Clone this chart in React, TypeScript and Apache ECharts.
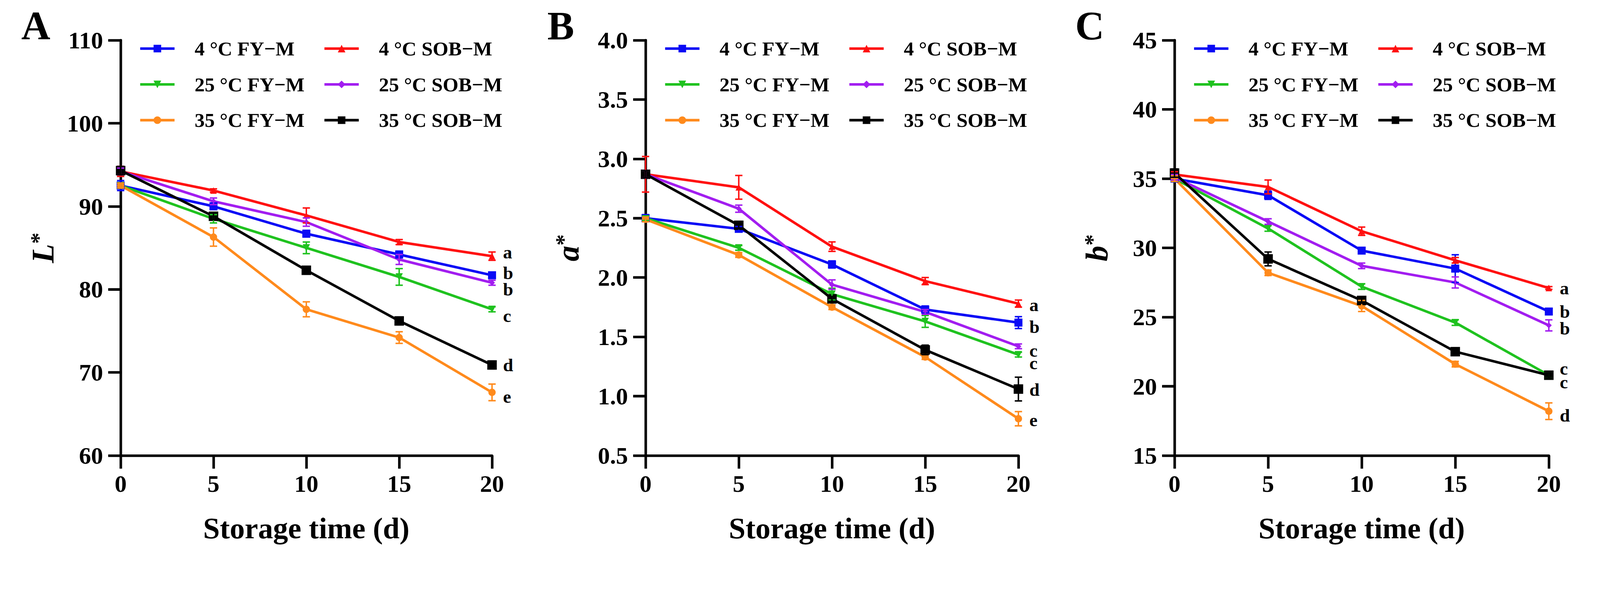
import React, { useEffect, useRef } from "react";
import * as echarts from "echarts";

const days = [0, 5, 10, 15, 20];
const groupNames = ["4 °C FY−M", "4 °C SOB−M", "25 °C FY−M", "25 °C SOB−M", "35 °C FY−M", "35 °C SOB−M"];
const colors = ["#0A0AF5", "#FF1010", "#1FC21F", "#A21DF0", "#FF8A1C", "#000000"];
const symbols = ["rect", "triangle", "triangle", "diamond", "circle", "rect"];
const symbolRotates = [0, 0, 180, 0, 0, 0];
const symbolSizes = [22, 18, 20, 16, 20, 26];

// L*
const lFY4 = [92.5, 90.0, 86.7, 84.2, 81.7];
const lSOB4 = [94.2, 91.9, 88.9, 85.7, 84.0];
const lFY25 = [92.5, 88.5, 85.0, 81.5, 77.6];
const lSOB25 = [94.2, 90.6, 88.1, 83.6, 80.8];
const lFY35 = [92.5, 86.3, 77.6, 74.2, 67.6];
const lSOB35 = [94.3, 88.8, 82.3, 76.2, 70.9];
const lSdFY4 = [0.6, 0.4, 0.4, 0.4, 0.3];
const lSdSOB4 = [0.6, 0.2, 0.9, 0.3, 0.5];
const lSdFY25 = [0.3, 0.5, 0.7, 1.0, 0.3];
const lSdSOB25 = [0.4, 0.4, 0.5, 0.6, 0.3];
const lSdFY35 = [0.3, 1.1, 0.9, 0.7, 1.0];
const lSdSOB35 = [0.5, 0.4, 0.3, 0.3, 0.3];
const lLetters = ["a", "b", "b", "c", "d", "e"];
const lLetterPos = [84.5, 82.0, 80.0, 76.8, 70.9, 67.1];

// a*
const aFY4 = [2.5, 2.41, 2.11, 1.73, 1.62];
const aSOB4 = [2.87, 2.76, 2.26, 1.97, 1.78];
const aFY25 = [2.5, 2.25, 1.86, 1.63, 1.35];
const aSOB25 = [2.87, 2.58, 1.94, 1.71, 1.42];
const aFY35 = [2.49, 2.19, 1.75, 1.33, 0.81];
const aSOB35 = [2.87, 2.44, 1.82, 1.39, 1.06];
const aSdFY4 = [0.03, 0.02, 0.03, 0.03, 0.05];
const aSdSOB4 = [0.15, 0.1, 0.04, 0.03, 0.03];
const aSdFY25 = [0.02, 0.02, 0.05, 0.05, 0.02];
const aSdSOB25 = [0.03, 0.03, 0.04, 0.02, 0.02];
const aSdFY35 = [0.02, 0.02, 0.02, 0.02, 0.06];
const aSdSOB35 = [0.03, 0.03, 0.02, 0.04, 0.1];
const aLetters = ["a", "b", "c", "c", "d", "e"];
const aLetterPos = [1.77, 1.585, 1.385, 1.28, 1.055, 0.8];

// b*
const bFY4 = [35.0, 33.8, 29.8, 28.5, 25.4];
const bSOB4 = [35.3, 34.4, 31.2, 29.1, 27.1];
const bFY25 = [35.0, 31.4, 27.2, 24.6, 20.8];
const bSOB25 = [35.1, 31.9, 28.7, 27.5, 24.4];
const bFY35 = [35.0, 28.2, 25.8, 21.6, 18.2];
const bSOB35 = [35.4, 29.2, 26.2, 22.5, 20.8];
const bSdFY4 = [0.2, 0.3, 0.2, 1.0, 0.2];
const bSdSOB4 = [0.2, 0.5, 0.3, 0.2, 0.1];
const bSdFY25 = [0.2, 0.2, 0.2, 0.2, 0.2];
const bSdSOB25 = [0.2, 0.2, 0.2, 0.4, 0.4];
const bSdFY35 = [0.2, 0.2, 0.4, 0.2, 0.6];
const bSdSOB35 = [0.3, 0.5, 0.2, 0.2, 0.2];
const bLetters = ["a", "b", "b", "c", "c", "d"];
const bLetterPos = [27.1, 25.4, 24.2, 21.3, 20.3, 17.9];

const font = '"Liberation Serif", "Times New Roman", serif';

const panels = [
  {
    tag: "A",
    values: [lFY4, lSOB4, lFY25, lSOB25, lFY35, lSOB35],
    sds: [lSdFY4, lSdSOB4, lSdFY25, lSdSOB25, lSdFY35, lSdSOB35],
    letters: lLetters,
    letterPos: lLetterPos,
    min: 60,
    max: 110,
    interval: 10,
    decimals: 0,
    axisName: "{i|L}{s|*}",
  },
  {
    tag: "B",
    values: [aFY4, aSOB4, aFY25, aSOB25, aFY35, aSOB35],
    sds: [aSdFY4, aSdSOB4, aSdFY25, aSdSOB25, aSdFY35, aSdSOB35],
    letters: aLetters,
    letterPos: aLetterPos,
    min: 0.5,
    max: 4,
    interval: 0.5,
    decimals: 1,
    axisName: "{i|a}{s|*}",
  },
  {
    tag: "C",
    values: [bFY4, bSOB4, bFY25, bSOB25, bFY35, bSOB35],
    sds: [bSdFY4, bSdSOB4, bSdFY25, bSdSOB25, bSdFY35, bSdSOB35],
    letters: bLetters,
    letterPos: bLetterPos,
    min: 15,
    max: 45,
    interval: 5,
    decimals: 0,
    axisName: "{i|b}{s|*}",
  },
];

// layout in the 4377 x 1532 design space
const W = 4377;
const H = 1532;
const gridLefts = [330, 1766, 3213];
const gridWidths = [1016, 1020, 1024];
const gridTop = 110;
const gridHeight = 1137;

const buildOption = () => {
  const grid: any[] = [];
  const xAxis: any[] = [];
  const yAxis: any[] = [];
  const legend: any[] = [];
  const series: any[] = [];
  const graphic: any[] = [];

  panels.forEach((p, i) => {
    const left = gridLefts[i];
    grid.push({ left, top: gridTop, width: gridWidths[i], height: gridHeight, containLabel: false });

    xAxis.push({
      gridIndex: i,
      type: "value",
      min: 0,
      max: 20,
      interval: 5,
      splitLine: { show: false },
      axisLine: { show: true, onZero: false, lineStyle: { color: "#000", width: 7 } },
      axisTick: { show: true, length: 36, lineStyle: { color: "#000", width: 7 } },
      axisLabel: { margin: 44, fontSize: 66, fontWeight: "bold", fontFamily: font, color: "#000" },
      name: "Storage time (d)",
      nameLocation: "middle",
      nameGap: 158,
      nameTextStyle: { fontSize: 82, fontWeight: "bold", fontFamily: font, color: "#000" },
    });

    yAxis.push({
      gridIndex: i,
      type: "value",
      min: p.min,
      max: p.max,
      interval: p.interval,
      splitLine: { show: false },
      axisLine: { show: true, onZero: false, lineStyle: { color: "#000", width: 7 } },
      axisTick: { show: true, length: 34, lineStyle: { color: "#000", width: 7 } },
      axisLabel: {
        margin: 48,
        fontSize: 66,
        fontWeight: "bold",
        fontFamily: font,
        color: "#000",
        formatter: (v: number) => v.toFixed(p.decimals),
      },
      name: p.axisName,
      nameLocation: "middle",
      nameGap: 170,
      nameRotate: 90,
      nameTextStyle: {
        color: "#000",
        rich: {
          i: { fontSize: 86, fontWeight: "bold", fontStyle: "italic", fontFamily: font, color: "#000" },
          s: { fontSize: 62, fontWeight: "bold", fontFamily: font, color: "#000", padding: [0, 0, 24, 0] },
        },
      },
    });

    [0, 1].forEach((col) => {
      legend.push({
        orient: "vertical",
        left: left + (col === 0 ? 50 : 554),
        top: 103,
        padding: 0,
        itemWidth: 94,
        itemHeight: 26,
        itemGap: 38,
        selectedMode: false,
        lineStyle: { width: 7 },
        data: [groupNames[col], groupNames[col + 2], groupNames[col + 4]],
        textStyle: {
          fontFamily: font,
          fontWeight: "bold",
          fontSize: 55,
          lineHeight: 60,
          color: "#000",
          padding: [0, 0, 0, 50],
        },
      });
    });

    p.values.forEach((vals, g) => {
      series.push({
        type: "line",
        name: groupNames[g],
        xAxisIndex: i,
        yAxisIndex: i,
        data: days.map((d, k) => [d, vals[k]]),
        symbol: symbols[g],
        symbolSize: symbolSizes[g],
        symbolRotate: symbolRotates[g],
        showAllSymbol: true,
        lineStyle: { color: colors[g], width: 7 },
        itemStyle: { color: colors[g] },
        z: 3,
      });
      const sd = p.sds[g];
      const color = colors[g];
      series.push({
        type: "custom",
        name: `sd-${p.tag}-${g}`,
        xAxisIndex: i,
        yAxisIndex: i,
        data: days.map((d, k) => [d, vals[k] - sd[k], vals[k] + sd[k]]),
        encode: { x: 0, y: [1, 2] },
        silent: true,
        z: 4,
        renderItem: (params: any, api: any) => {
          const x = api.value(0);
          const top = api.coord([x, api.value(2)]);
          const bot = api.coord([x, api.value(1)]);
          const w = 10;
          const style = { stroke: color, lineWidth: 4 };
          return {
            type: "group",
            children: [
              { type: "line", shape: { x1: top[0], y1: top[1], x2: bot[0], y2: bot[1] }, style },
              { type: "line", shape: { x1: top[0] - w, y1: top[1], x2: top[0] + w, y2: top[1] }, style },
              { type: "line", shape: { x1: bot[0] - w, y1: bot[1], x2: bot[0] + w, y2: bot[1] }, style },
            ],
          };
        },
      });
    });

    series.push({
      type: "custom",
      name: `letters-${p.tag}`,
      xAxisIndex: i,
      yAxisIndex: i,
      data: p.letterPos.map((y) => [20, y]),
      encode: { x: 0, y: 1 },
      silent: true,
      z: 5,
      renderItem: (params: any, api: any) => {
        const pt = api.coord([api.value(0), api.value(1)]);
        return {
          type: "text",
          x: pt[0] + 30,
          y: pt[1],
          style: {
            text: p.letters[params.dataIndex],
            fontSize: 50,
            fontWeight: "bold",
            fontFamily: font,
            fill: "#000",
            align: "left",
            verticalAlign: "middle",
          },
        };
      },
    });

    graphic.push({
      type: "text",
      x: left - 232,
      y: 70,
      style: {
        text: p.tag,
        fontSize: 110,
        fontWeight: "bold",
        fontFamily: font,
        fill: "#000",
        align: "center",
        verticalAlign: "middle",
      },
    });
  });

  return { animation: false, backgroundColor: "#fff", grid, xAxis, yAxis, legend, series, graphic };
};

const App: React.FC = () => {
  const chartRef = useRef<HTMLDivElement>(null);
  const scale = Math.min(window.innerWidth / W, window.innerHeight / H);

  useEffect(() => {
    document.body.style.margin = "0";
    document.body.style.overflow = "hidden";
    if (!chartRef.current) return;
    const chart = echarts.init(chartRef.current, undefined, { renderer: "svg" });
    chart.setOption(buildOption());
    return () => {
      chart.dispose();
    };
  }, []);

  return (
    <div style={{ width: W * scale, height: H * scale, overflow: "hidden" }}>
      <div
        ref={chartRef}
        style={{ width: W, height: H, transform: `scale(${scale})`, transformOrigin: "0 0" }}
      />
    </div>
  );
};

export default App;
